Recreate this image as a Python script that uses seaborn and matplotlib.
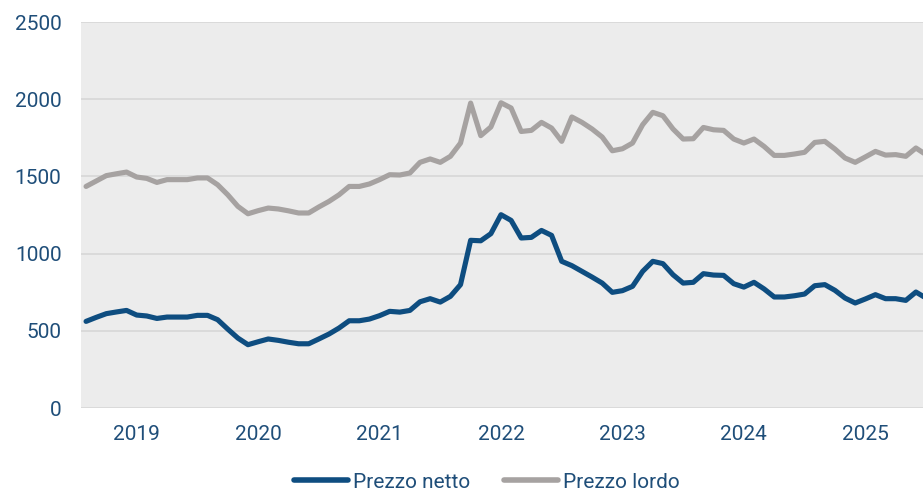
import numpy as np
import pandas as pd
import seaborn as sns
import matplotlib.pyplot as plt

# monthly prices, first point = start of 2019
prezzo_netto = [561, 587, 611, 622, 632, 602, 596, 580, 589, 589, 589, 600,
                600, 572, 511, 453, 410, 429, 447, 438, 426, 416, 416, 447,
                479, 518, 565, 565, 576, 598, 626, 621, 632, 688, 708, 686,
                723, 799, 1086, 1083, 1129, 1252, 1215, 1101, 1105, 1150, 1118, 950,
                922, 885, 848, 809, 749, 760, 788, 885, 950, 935, 863, 809,
                814, 870, 861, 859, 805, 783, 814, 771, 719, 719, 727, 738,
                792, 799, 762, 712, 680, 706, 734, 708, 708, 697, 751, 712]
prezzo_lordo = [1435, 1470, 1505, 1517, 1528, 1496, 1487, 1461, 1479, 1479, 1479, 1490,
                1490, 1446, 1381, 1306, 1258, 1278, 1295, 1289, 1277, 1263, 1263, 1302,
                1338, 1381, 1435, 1435, 1451, 1479, 1511, 1509, 1522, 1591, 1613, 1591,
                1630, 1716, 1975, 1764, 1820, 1977, 1943, 1791, 1798, 1850, 1813, 1727,
                1885, 1850, 1807, 1755, 1666, 1679, 1716, 1835, 1915, 1893, 1807, 1742,
                1744, 1817, 1802, 1798, 1742, 1716, 1742, 1694, 1636, 1636, 1645, 1656,
                1720, 1727, 1677, 1619, 1591, 1626, 1662, 1638, 1641, 1630, 1684, 1641]
years = ['2019', '2020', '2021', '2022', '2023', '2024', '2025']

n = len(prezzo_netto)
df = pd.DataFrame({
    'mese': list(range(n)) * 2,
    'prezzo': prezzo_netto + prezzo_lordo,
    'serie': ['Prezzo netto'] * n + ['Prezzo lordo'] * n,
})

text_color = '#1f4e79'
sns.set_style('whitegrid', {'axes.facecolor': '#ececec', 'grid.color': '#d9d9d9',
                            'axes.edgecolor': '#ececec'})
plt.rcParams['font.family'] = ['Roboto', 'DejaVu Sans']
fontsize = 15

fig = plt.figure(figsize=(9.23, 4.93), dpi=100)
ax = fig.add_axes([81 / 923, 1 - 408 / 493, 1 - 81 / 923, (408 - 22) / 493])

sns.lineplot(data=df, x='mese', y='prezzo', hue='serie', ax=ax,
             palette={'Prezzo netto': '#0e4d80', 'Prezzo lordo': '#a6a2a1'},
             linewidth=3.7, solid_capstyle='round', solid_joinstyle='round')

ax.set_xlim(-0.5, 82.7)
ax.set_ylim(0, 2500)
ax.set_yticks(range(0, 2501, 500))
ax.set_xticks([5 + 12 * k for k in range(len(years))])
ax.set_xticklabels(years)
ax.grid(axis='x', visible=False)
ax.grid(axis='y', linewidth=1.3)
for s in ax.spines.values():
    s.set_visible(False)
ax.set_xlabel('')
ax.set_ylabel('')
ax.tick_params(axis='both', length=0, labelsize=fontsize, labelcolor=text_color)
ax.tick_params(axis='y', pad=14)
ax.tick_params(axis='x', pad=12.5)

leg = ax.legend(loc='center', bbox_to_anchor=(487 / 923, 1 - 482 / 493),
                bbox_transform=fig.transFigure, ncol=2, frameon=False,
                fontsize=fontsize, handlelength=2.6, handletextpad=0.25,
                columnspacing=1.6, borderpad=0.2)
for line in leg.get_lines():
    line.set_solid_capstyle('round')
    line.set_linewidth(4)
for t in leg.get_texts():
    t.set_color(text_color)

fig.savefig('out.png', dpi=100)
